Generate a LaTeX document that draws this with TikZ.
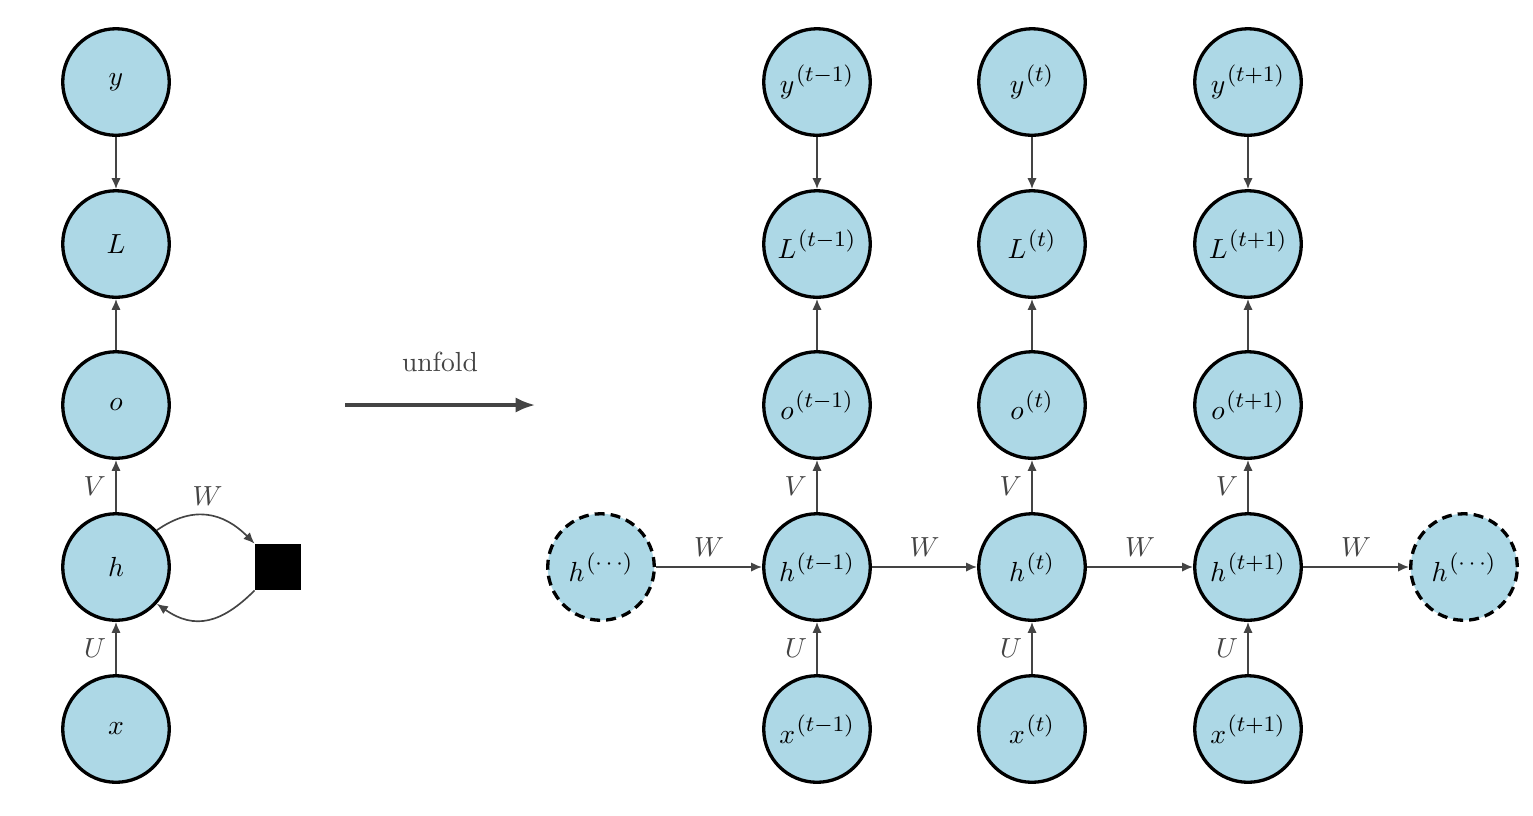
\documentclass[tikz,border=0pt]{standalone}
\usetikzlibrary{arrows.meta}
\definecolor{nodefill}{HTML}{ADD8E6}
\definecolor{edgegray}{HTML}{444444}
% time-step superscript, set a little larger than the usual script size, tight spacing
\newcommand\tstep[1]{^{\kern0.6pt\raisebox{0.8pt}{\footnotesize$\medmuskip=0mu(#1)$}}}
\begin{document}
\begin{tikzpicture}[x=0.3623pt,y=-0.3623pt,
  unit/.style={circle,draw=black,fill=nodefill,line width=1.2pt,minimum size=38.6pt,inner sep=0pt},
  ghost/.style={unit,dash pattern=on 3.6pt off 2.2pt},
  edge/.style={draw=edgegray,line width=0.6pt,-{Latex[length=4pt,width=3.4pt]}},
  wt/.style={text=edgegray,font=\normalsize}]
\useasboundingbox (0,0) rectangle (1533,815);

% folded network
\node[unit] (y) at (116,82) {$y$};
\node[unit] (L) at (116,244) {$L$};
\node[unit] (o) at (116,405) {$o$};
\node[unit] (h) at (116,567) {$h$};
\node[unit] (x) at (116,729) {$x$};
\node[fill=black,minimum size=16.6pt,inner sep=0pt] (d) at (278,567) {};

\draw[edge] (y) -- (L);
\draw[edge] (o) -- (L);
\draw[edge] (h) -- node[wt,left,pos=0.5] {$V$} (o);
\draw[edge] (x) -- node[wt,left,pos=0.5] {$U$} (h);
\draw[edge] (h.42) to[out=35,in=135,looseness=1.15] node[wt,above,pos=0.5] {$W$} (d.north west);
\draw[edge] (d.south west) to[out=-135,in=-35,looseness=1.2] (h.-42);

% unfold arrow
\coordinate (ua) at (345,405);
\coordinate (ub) at (535,405);
\draw[draw=edgegray,line width=1.1pt,-{Latex[length=7pt,width=5.5pt]}] (ua) -- node[wt,above=8pt] {unfold} (ub);

% unfolded network
\node[ghost] (hl) at (601,567) {$h\tstep{\cdots}$};
\node[ghost] (hr) at (1464,567) {$h\tstep{\cdots}$};
\foreach \n/\cx/\s in {a/817/{t-1},b/1032/{t},c/1248/{t+1}}{
  \node[unit] (y\n) at (\cx,82) {$y\tstep{\s}$};
  \node[unit] (L\n) at (\cx,244) {$L\tstep{\s}$};
  \node[unit] (o\n) at (\cx,405) {$o\tstep{\s}$};
  \node[unit] (h\n) at (\cx,567) {$h\tstep{\s}$};
  \node[unit] (x\n) at (\cx,729) {$x\tstep{\s}$};
  \draw[edge] (y\n) -- (L\n);
  \draw[edge] (o\n) -- (L\n);
  \draw[edge] (h\n) -- node[wt,left] {$V$} (o\n);
  \draw[edge] (x\n) -- node[wt,left] {$U$} (h\n);
}
\draw[edge] (hl) -- node[wt,above] {$W$} (ha);
\draw[edge] (ha) -- node[wt,above] {$W$} (hb);
\draw[edge] (hb) -- node[wt,above] {$W$} (hc);
\draw[edge] (hc) -- node[wt,above] {$W$} (hr);
\end{tikzpicture}
\end{document}
